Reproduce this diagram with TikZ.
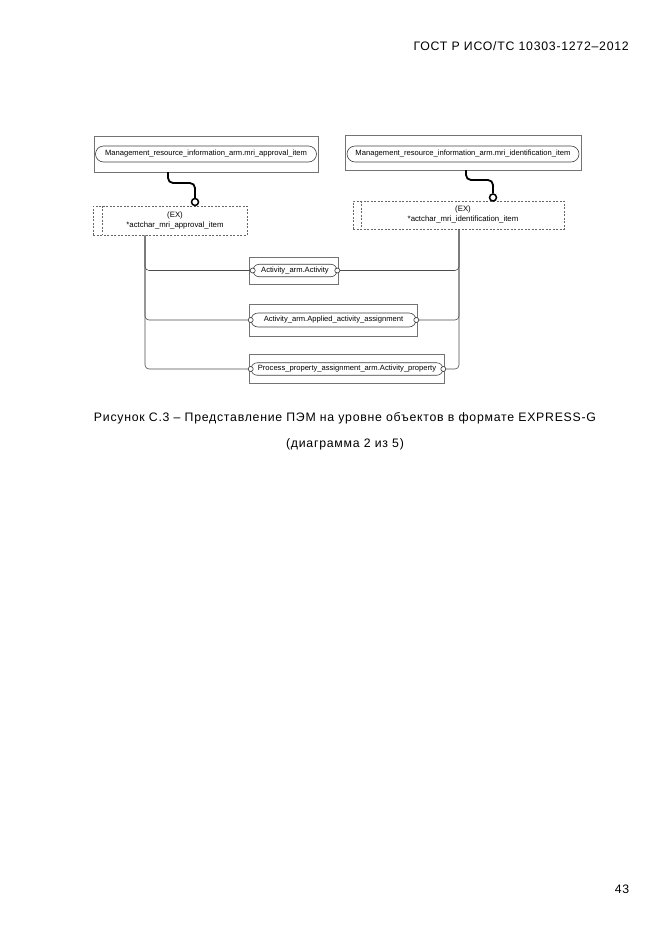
\documentclass[tikz,border=0pt]{standalone}
\usepackage{fontspec}
\setmainfont{Liberation Sans}
\usetikzlibrary{shapes.misc,calc}
\begin{document}
\begin{tikzpicture}[x=1pt,y=-1pt,
  entbox/.style={draw=black!55, line width=0.7pt, rectangle, inner sep=0pt},
  pill/.style={draw=black!75, line width=0.6pt, rounded rectangle, inner sep=0pt, font=\fontsize{7.6}{9}\selectfont},
  exbox/.style={draw=black!60, dash pattern=on 2pt off 1.5pt, line width=0.6pt, rectangle, inner sep=0pt},
  extext/.style={align=center, inner sep=0pt, font=\fontsize{7.8}{10}\selectfont},
  rel/.style={draw=black!70, line width=0.6pt, rounded corners=4pt},
  oc/.style={circle, draw=black!80, line width=0.6pt, inner sep=0pt, minimum size=5pt, fill=white},
  thickrel/.style={draw=black, line width=1.8pt, rounded corners=5pt},
  ring/.style={circle, draw=black, line width=1.5pt, fill=white, inner sep=0pt, minimum size=7pt},
  pagetext/.style={inner sep=0pt, font=\fontsize{12.3}{14}\selectfont\addfontfeature{LetterSpace=6}}
]
\useasboundingbox (0,0) rectangle (661,935);

% header and page number
\node[pagetext, anchor=east] (hdr) at (629,46) {ГОСТ Р ИСО/ТС 10303-1272–2012};
\node[pagetext] (pg) at (622,889) {43};

% top entity boxes
\node[entbox, minimum width=224pt, minimum height=36pt] (bL) at (206,154) {};
\node[pill, minimum width=221pt, minimum height=16pt] (mL) at (206,154) {Management\_resource\_information\_arm.mri\_approval\_item};
\node[entbox, minimum width=236pt, minimum height=35pt] (bR) at (463,152.5) {};
\node[pill, minimum width=232pt, minimum height=16pt] (mR) at (463,154) {Management\_resource\_information\_arm.mri\_identification\_item};

% extensible select boxes
\node[exbox, minimum width=154pt, minimum height=29pt] (exL) at (170,220.5) {};
\draw[draw=black!60, dash pattern=on 2pt off 1.5pt, line width=0.6pt] ($(exL.north west)+(10,0)$) -- ($(exL.south west)+(10,0)$);
\node[extext] (tL) at (175,220) {(EX)\\*actchar\_mri\_approval\_item};
\node[exbox, minimum width=211pt, minimum height=28pt] (exR) at (458.5,215) {};
\draw[draw=black!60, dash pattern=on 2pt off 1.5pt, line width=0.6pt] ($(exR.north west)+(9,0)$) -- ($(exR.south west)+(9,0)$);
\node[extext] (tR) at (463,214.5) {(EX)\\*actchar\_mri\_identification\_item};

% rings
\node[ring] (oL) at (195,202) {};
\node[ring] (oR) at (493,197.5) {};

% thick connectors
\coordinate (sL) at (168,172);
\coordinate (sR) at (466,170);
\draw[thickrel] (sL) -- ++(0,11) -| (oL.north);
\draw[thickrel] (sR) -- ++(0,10) -| (oR.north);

% middle entity boxes
\node[entbox, minimum width=89pt, minimum height=27pt] (b1) at (293.5,270.5) {};
\node[pill, minimum width=84pt, minimum height=12.5pt] (p1) at (295,270.5) {Activity\_arm.Activity};
\node[entbox, minimum width=168pt, minimum height=32pt] (b2) at (333,320) {};
\node[pill, minimum width=165pt, minimum height=14pt] (p2) at (333.5,320) {Activity\_arm.Applied\_activity\_assignment};
\node[entbox, minimum width=195pt, minimum height=29pt] (b3) at (346.5,368.5) {};
\node[pill, minimum width=192pt, minimum height=12.5pt] (p3) at (347,369) {Process\_property\_assignment\_arm.Activity\_property};

% small circles
\node[oc] (c1l) at (p1.west) {};
\node[oc] (c1r) at (p1.east) {};
\node[oc] (c2l) at (p2.west) {};
\node[oc] (c2r) at (p2.east) {};
\node[oc] (c3l) at (p3.west) {};
\node[oc] (c3r) at (p3.east) {};

% buses
\coordinate (lx) at (145,0);
\coordinate (rx) at (459,0);
\draw[rel] (exL.south -| lx) |- (c1l.west);
\draw[rel] (exL.south -| lx) |- (c2l.west);
\draw[rel] (exL.south -| lx) |- (c3l.west);
\draw[rel] (exR.south -| rx) |- (c1r.east);
\draw[rel] (exR.south -| rx) |- (c2r.east);
\draw[rel] (exR.south -| rx) |- (c3r.east);

% caption
\node[pagetext] (cap1) at (345,418) {Рисунок С.3 – Представление ПЭМ на уровне объектов в формате EXPRESS-G};
\node[pagetext] (cap2) at (345,444) {(диаграмма 2 из 5)};
\end{tikzpicture}
\end{document}
